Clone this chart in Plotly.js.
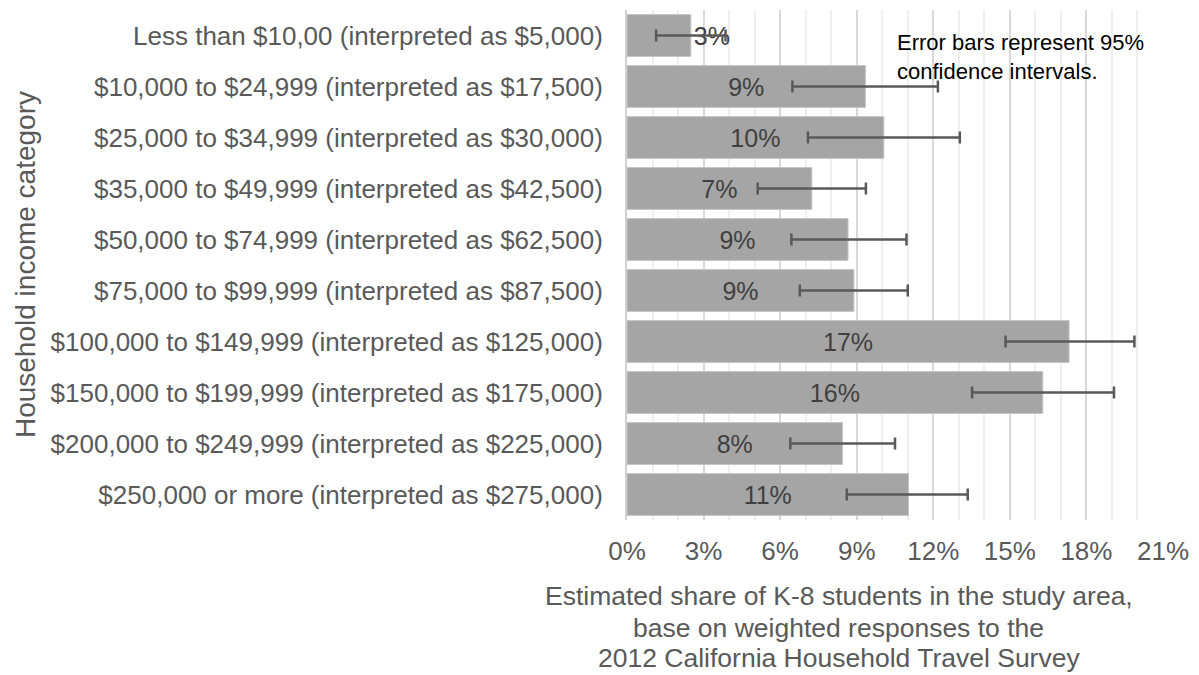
<!DOCTYPE html>
<html>
<head>
<meta charset="utf-8">
<script src="https://cdn.plot.ly/plotly-3.0.1.min.js"></script>
<style>html,body{margin:0;padding:0;background:#fff;}#chart{width:1199px;height:675px;}</style>
</head>
<body>
<div id="chart"></div>
<script>
const categories = [
  "Less than $10,00 (interpreted as $5,000)",
  "$10,000 to $24,999 (interpreted as $17,500)",
  "$25,000 to $34,999 (interpreted as $30,000)",
  "$35,000 to $49,999 (interpreted as $42,500)",
  "$50,000 to $74,999 (interpreted as $62,500)",
  "$75,000 to $99,999 (interpreted as $87,500)",
  "$100,000 to $149,999 (interpreted as $125,000)",
  "$150,000 to $199,999 (interpreted as $175,000)",
  "$200,000 to $249,999 (interpreted as $225,000)",
  "$250,000 or more (interpreted as $275,000)"
];
const shares = [2.5, 9.34, 10.06, 7.24, 8.66, 8.89, 17.32, 16.29, 8.44, 11.03];
const ciLower = [1.14, 6.48, 7.09, 5.12, 6.44, 6.77, 14.83, 13.52, 6.40, 8.61];
const ciUpper = [3.86, 12.18, 13.04, 9.36, 10.95, 11.0, 19.88, 19.08, 10.5, 13.35];
const labelPositions = ["outside","inside","inside","inside","inside","inside","inside","inside","inside","inside"];
const xTitleLines = [
  "Estimated share of K-8 students in the study area,",
  "base on weighted responses to the",
  "2012 California Household Travel Survey"
];

const font = "Liberation Sans, Arial, Helvetica, sans-serif";
const grey = "#595959";

const trace = {
  type: "bar",
  orientation: "h",
  y: categories,
  x: shares,
  marker: {color: "#a5a5a5", line: {color: "#c4c4c4", width: 1}},
  texttemplate: "%{x:.0f}%",
  textposition: labelPositions,
  insidetextanchor: "middle",
  textfont: {family: font, size: 25, color: "#404040"},
  outsidetextfont: {family: font, size: 25, color: "#404040"},
  cliponaxis: false,
  error_x: {
    type: "data",
    symmetric: false,
    array: ciUpper.map((u, i) => u - shares[i]),
    arrayminus: ciLower.map((l, i) => shares[i] - l),
    color: grey,
    thickness: 2.5,
    width: 6
  },
  hoverinfo: "skip"
};

const titleY = [-0.149, -0.2118, -0.2706];
const annotations = [
  {
    xref: "paper", yref: "paper",
    x: 0.5, y: 0.965, xanchor: "left", yanchor: "top",
    align: "left", showarrow: false,
    text: "Error bars represent 95%<br>confidence intervals.",
    font: {family: font, size: 22, color: "#000"}
  },
  {
    xref: "paper", yref: "paper",
    x: -1.123, y: 0.5, xanchor: "center", yanchor: "middle",
    textangle: -90, showarrow: false,
    text: "Household income category",
    font: {family: font, size: 28, color: grey}
  }
];
xTitleLines.forEach((line, i) => {
  annotations.push({
    xref: "paper", yref: "paper",
    x: 0.3955, y: titleY[i], xanchor: "center", yanchor: "middle",
    showarrow: false, text: line, borderpad: 0,
    font: {family: font, size: 26.5, color: grey}
  });
});

const layout = {
  width: 1199,
  height: 675,
  margin: {l: 627, r: 36, t: 10, b: 155},
  paper_bgcolor: "#fff",
  plot_bgcolor: "#fff",
  showlegend: false,
  bargap: 0.18,
  font: {family: font, color: grey},
  xaxis: {
    range: [0, 21],
    dtick: 3,
    tick0: 0,
    ticksuffix: "%",
    showgrid: true,
    gridcolor: "#d9d9d9",
    gridwidth: 2,
    minor: {dtick: 1, showgrid: true, gridcolor: "#efefef", gridwidth: 2},
    zeroline: false,
    showline: false,
    ticks: "",
    ticklabelstandoff: 13,
    tickfont: {family: font, size: 26, color: grey},
    fixedrange: true
  },
  yaxis: {
    type: "category",
    autorange: "reversed",
    showgrid: false,
    zeroline: false,
    showline: true,
    linecolor: "#d0d0d0",
    linewidth: 2,
    ticks: "",
    ticklabelstandoff: 17,
    tickfont: {family: font, size: 26, color: grey},
    fixedrange: true
  },
  annotations: annotations
};

Plotly.newPlot("chart", [trace], layout, {displayModeBar: false, staticPlot: true});
</script>
</body>
</html>
